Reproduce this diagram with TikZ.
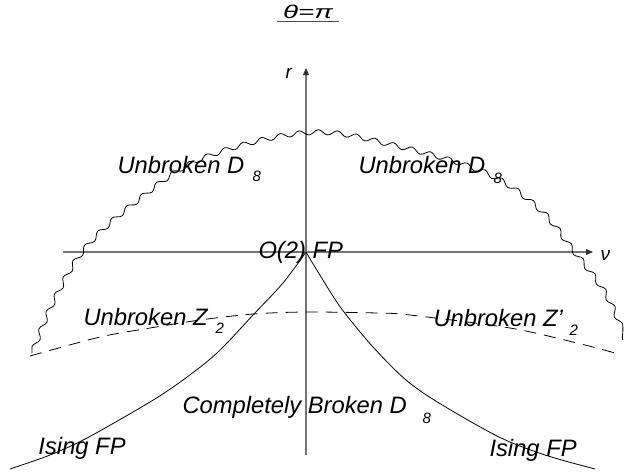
\documentclass[tikz,border=0pt]{standalone}
\usepackage{fontspec}
\setmainfont{Liberation Sans}
\usetikzlibrary{decorations.pathmorphing,arrows.meta}
\begin{document}
% 1 unit = 1 px of the reference = 0.4pt
\begin{tikzpicture}[x=0.4pt,y=-0.4pt,
  lbl/.style={anchor=base west, inner sep=0pt, font=\itshape\fontsize{9.5}{10}\selectfont},
  sublbl/.style={anchor=base west, inner sep=0pt, font=\itshape\fontsize{6}{7}\selectfont},
  axlbl/.style={anchor=base west, inner sep=0pt, font=\itshape\fontsize{7.6}{8}\selectfont},
  axis/.style={draw=black!55, line width=0.44pt, -{Triangle[length=2.8pt,width=2.4pt,color=black!80]}},
  curve/.style={line width=0.32pt},
  wavy/.style={curve, decorate, decoration={snake, amplitude=1.0pt, segment length=7.6pt}},
  dashline/.style={curve, dash pattern=on 4.8pt off 3.2pt}]
\useasboundingbox (0,0) rectangle (624,473);
% axes
\coordinate (vbot) at (306,455);
\coordinate (vtop) at (306,68);
\coordinate (hl) at (63,252);
\coordinate (hr) at (593,252);
\coordinate (fp) at (306,252);
\draw[axis] (vbot) -- (vtop);
\draw[axis] (hl) -- (hr);
% title
\node[anchor=base, inner sep=0pt, font=\itshape\fontsize{7.4}{8}\selectfont] (title) at (308,18) {\scalebox{1.5}[1]{θ=π}};
\coordinate (ul) at (277,21);
\coordinate (ur) at (339,21);
\draw[line width=0.36pt, black!70] (ul) -- (ur);
\node[axlbl] (rlab) at (285,78) {r};
\node[axlbl] (nulab) at (600,260) {ν};
% wavy boundary
\draw[wavy] (32,353) .. controls (35.5,344.67) and (44.5,319.67) .. (53,303)
  .. controls (61.5,286.33) and (69.67,269) .. (83,253)
  .. controls (96.33,237) and (113.5,222) .. (133,207)
  .. controls (152.5,192) and (171.17,174.67) .. (200,163)
  .. controls (228.83,151.33) and (273.83,139.17) .. (306,137)
  .. controls (338.17,134.83) and (363.5,143.33) .. (393,150)
  .. controls (422.5,156.67) and (459,166.5) .. (483,177)
  .. controls (507,187.5) and (522.5,200.33) .. (537,213)
  .. controls (551.5,225.67) and (559,239) .. (570,253)
  .. controls (581,267) and (594.17,282.5) .. (603,297)
  .. controls (611.83,311.5) and (619.67,332.83) .. (623,340);
% dashed boundary
\draw[dashline] plot[smooth] coordinates {(30,356) (100,337) (150,328) (200,320) (253,314) (306,312) (377,313) (410,315) (510,328) (577,343) (615,353)};
% solid curves from O(2) FP
\draw[curve] plot[smooth] coordinates {(fp) (283,283) (253,315) (217,353) (183,380) (150,402) (87,438) (50,455) (10,469)};
\draw[curve] plot[smooth] coordinates {(fp) (318,272) (341,308) (373,347) (406,380) (439,403) (499,437) (545,455) (595,469)};
% labels
\node[lbl] (ud1) at (117,173) {Unbroken D};
\node[sublbl] (ud1s) at (252,181) {8};
\node[lbl] (ud2) at (358,173) {Unbroken D};
\node[sublbl] (ud2s) at (493,183) {8};
\node[lbl] (uz1) at (83,325) {Unbroken Z};
\node[sublbl] (uz1s) at (215,333) {2};
\node[lbl] (uz2) at (433,326) {Unbroken Z'};
\node[sublbl] (uz2s) at (569,335) {2};
\node[lbl] (o2) at (258,258) {O(2) FP};
\node[lbl] (cb) at (182,413) {Completely Broken D};
\node[sublbl] (cbs) at (422,423) {8};
\node[lbl] (is1) at (38,454) {Ising FP};
\node[lbl] (is2) at (489,456) {Ising FP};
\end{tikzpicture}
\end{document}
